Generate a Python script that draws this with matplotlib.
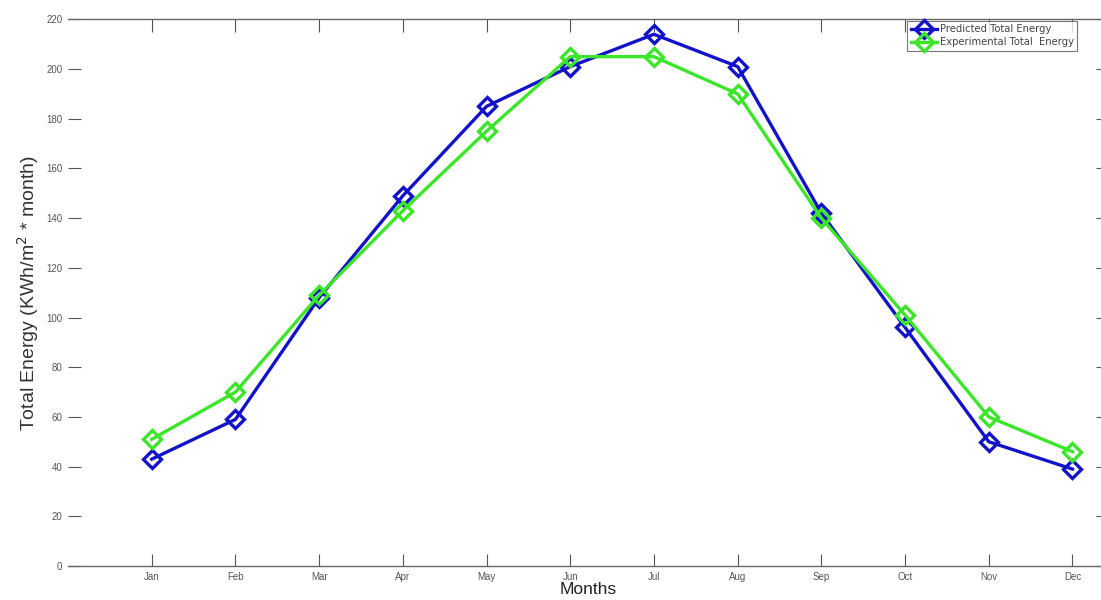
import matplotlib
matplotlib.use("Agg")
import matplotlib.pyplot as plt

months = ["Jan", "Feb", "Mar", "Apr", "May", "Jun", "Jul", "Aug", "Sep", "Oct", "Nov", "Dec"]
predicted = [43, 59, 108, 149, 185, 201, 214, 201, 142, 96, 50, 39]
experimental = [51, 70, 109, 143, 175, 205, 205, 190, 140, 101, 60, 46]
y_ticks = [0, 20, 40, 60, 80, 100, 120, 140, 160, 180, 200, 220]

plt.rcParams['font.family'] = ['Liberation Sans', 'DejaVu Sans']

fig = plt.figure(figsize=(11.01, 6.0), dpi=100)
ax = fig.add_axes([0.0618, 0.0567, 0.945, 0.911])

blue = '#1212c8'
green = '#3be628'
x = list(range(1, len(months) + 1))
ax.plot(x, predicted, color=blue, lw=2.4, marker='D', ms=9,
        mfc='none', mec=blue, mew=2.4, label='Predicted Total Energy')
ax.plot(x, experimental, color=green, lw=2.4, marker='D', ms=9,
        mfc='none', mec=green, mew=2.4, label='Experimental Total  Energy')

ax.set_xlim(0, 12.43)
ax.set_ylim(0, 220)
ax.set_xticks(x)
ax.set_xticklabels(months, fontsize=7, color='#555555')
ax.set_yticks(y_ticks)
ax.set_yticklabels([str(v) for v in y_ticks], fontsize=7, color='#555555')
ax.tick_params(direction='in', length=9, width=0.8, color='#555555', pad=4,
               top=True, right=True)
ax.spines['left'].set_visible(False)
for s in ['top', 'bottom', 'right']:
    ax.spines[s].set_color('#666666')
    ax.spines[s].set_linewidth(1.0)

ax.set_ylabel('Total Energy (KWh/m$^2$ * month)', fontsize=14, color='#333333', labelpad=4)
ax.set_xlabel('Months', fontsize=12.5, color='#222222', labelpad=0.5)

leg = fig.legend(loc='upper left', bbox_to_anchor=(907 / 1101, 1 - 21 / 600),
                 bbox_transform=fig.transFigure,
                 prop={'family': 'DejaVu Sans', 'size': 7.2},
                 frameon=True, fancybox=False, handlelength=2.6, handletextpad=0.3,
                 borderpad=0.35, labelspacing=0.25, borderaxespad=0)
leg.get_frame().set_edgecolor('#555555')
leg.get_frame().set_linewidth(0.8)
for t in leg.get_texts():
    t.set_color('#444444')

fig.savefig('out.png', dpi=100)
